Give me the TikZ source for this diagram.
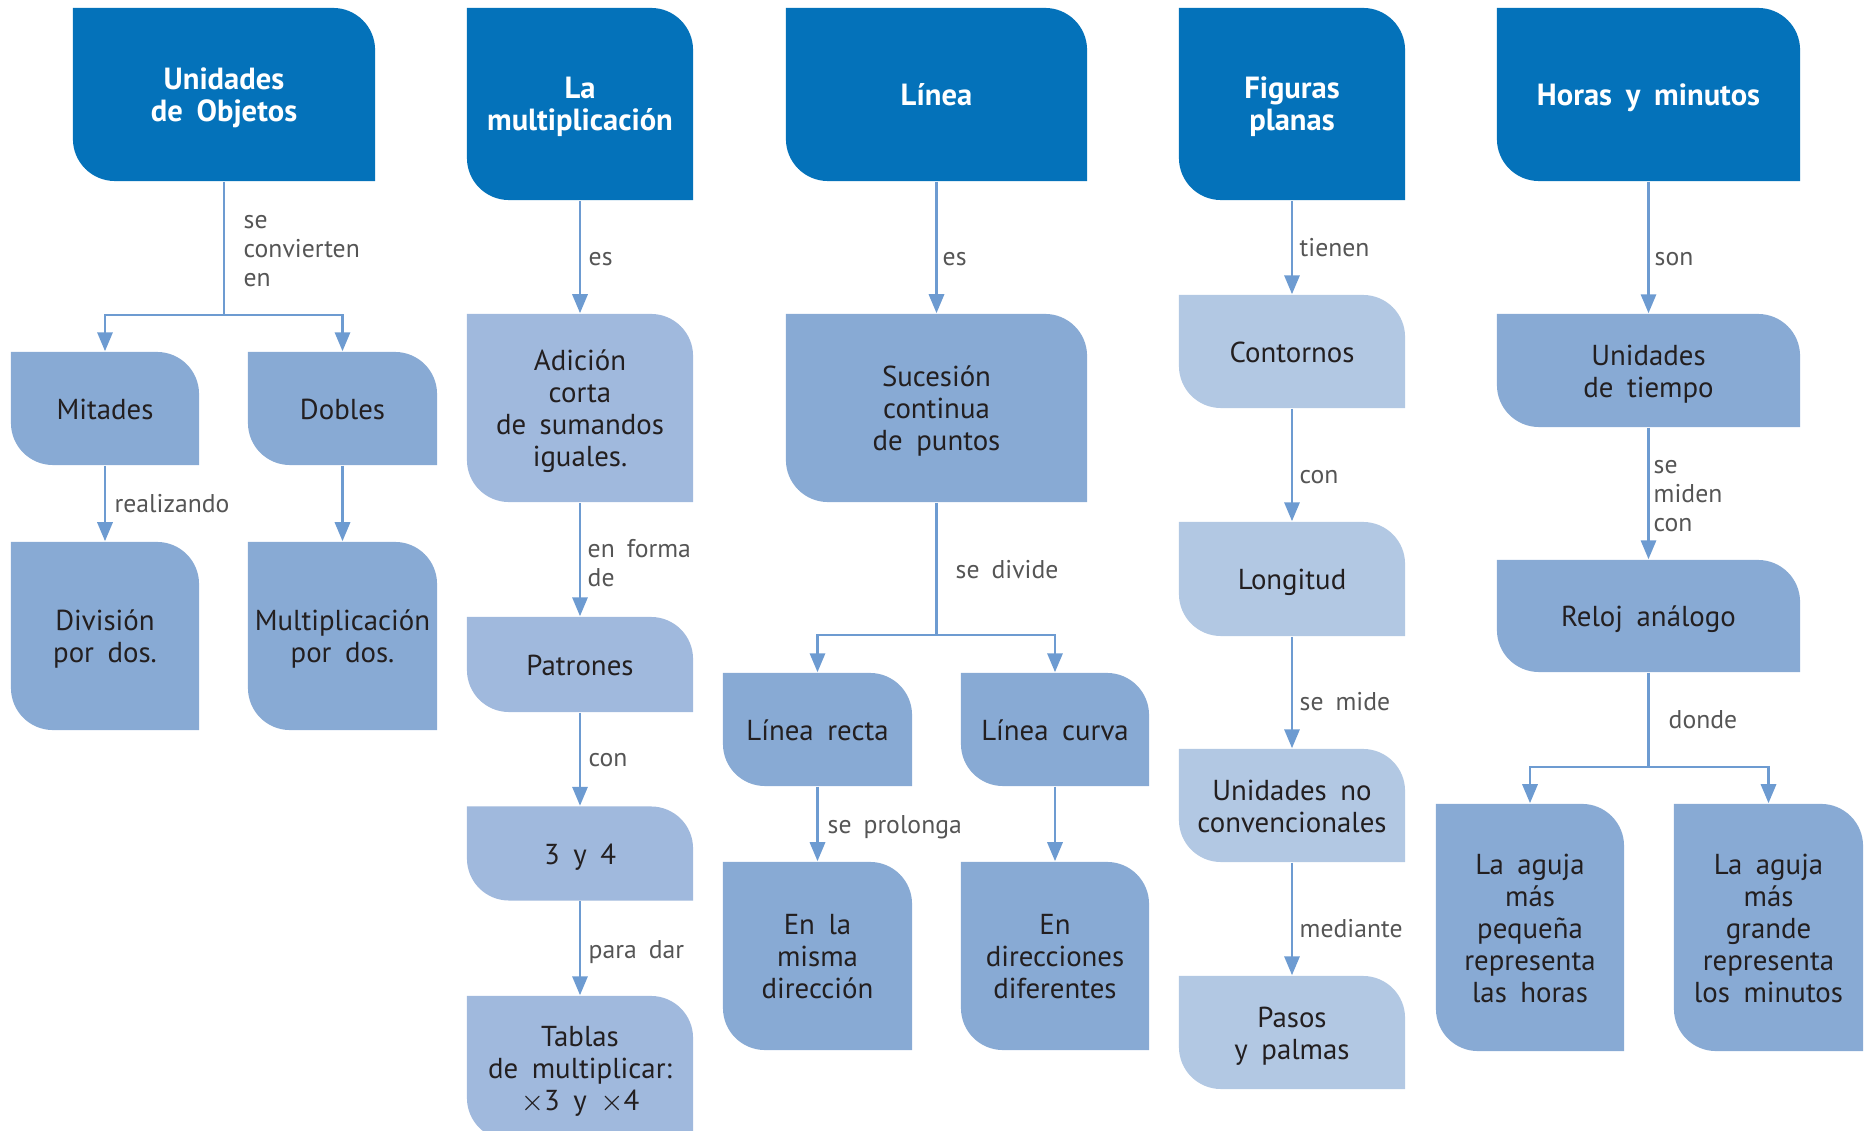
\documentclass[tikz,border=0pt]{standalone}
\usepackage{fontspec}
\setmainfont{PT Sans}
\usetikzlibrary{arrows.meta}
\definecolor{hdr}{HTML}{0472BA}
\definecolor{mid}{HTML}{88AAD4}
\definecolor{lite}{HTML}{A0B9DD}
\definecolor{pale}{HTML}{B2C8E3}
\definecolor{wire}{HTML}{6D9BD1}
\definecolor{lbl}{HTML}{555555}
\definecolor{ink}{HTML}{231F20}
\DeclareRobustCommand\bodyfnt{\fontsize{8.2}{9.1}\selectfont\spaceskip 0.47em plus 0.1em\relax}
\DeclareRobustCommand\headfnt{\fontsize{8.7}{9.1}\selectfont\bfseries\spaceskip 0.45em plus 0.1em\relax}
\DeclareRobustCommand\labfnt{\fontsize{7.3}{8.25}\selectfont\spaceskip 0.47em plus 0.1em\relax}
\DeclareRobustCommand\tst{\rule{0pt}{9pt}}
\DeclareRobustCommand\botstrut{\rule[-3pt]{0pt}{3pt}}
\tikzset{
 tile/.style={rectangle, inner sep=0pt, align=center, text=ink, fill=white,
   font=\bodyfnt,
   execute at begin node=\tst, execute at end node=\botstrut,
   path picture={\fill[#1] (path picture bounding box.north west)
     -- ([xshift=-0.42cm]path picture bounding box.north east)
     arc[start angle=90,end angle=0,radius=0.42cm]
     -- (path picture bounding box.south east)
     -- ([xshift=0.42cm]path picture bounding box.south west)
     arc[start angle=270,end angle=180,radius=0.42cm] -- cycle;}},
 head/.style={tile=hdr, text=white, font=\headfnt},
 wireln/.style={draw=wire, line width=0.8pt},
 arr/.style={wireln, -{Triangle[length=5.4pt,width=4.3pt]}},
 lab/.style={anchor=west, inner sep=0pt, align=left, text=lbl, font=\labfnt}
}
\begin{document}
\begin{tikzpicture}[x=0.01cm,y=-0.01cm]
\path[use as bounding box] (0,0) rectangle (1869,1131);
\clip (0,0) rectangle (1869,1131);
% column 1
\node[head, minimum width=3.02cm, minimum height=1.73cm] (uo) at (224,94.5) {\tst Unidades\\de Objetos};
\node[tile=mid, minimum width=1.88cm, minimum height=1.13cm] (mit) at (105,408.5) {Mitades};
\node[tile=mid, minimum width=1.89cm, minimum height=1.13cm] (dob) at (342.5,408.5) {Dobles};
\node[tile=mid, minimum width=1.88cm, minimum height=1.88cm] (div) at (105,636) {\tst División\\por dos.};
\node[tile=mid, minimum width=1.89cm, minimum height=1.88cm] (mpd) at (342.5,636) {\tst Multiplicación\\por dos.};
% column 2
\node[head, minimum width=2.26cm, minimum height=1.92cm] (mul) at (580,104) {\tst La\\multiplicación};
\node[tile=lite, minimum width=2.26cm, minimum height=1.88cm] (adi) at (580,408) {\tst Adición\\corta\\de sumandos\\iguales.};
\node[tile=lite, minimum width=2.26cm, minimum height=0.95cm] (pat) at (580,664.5) {Patrones};
\node[tile=lite, minimum width=2.26cm, minimum height=0.94cm] (tyc) at (580,853.5) {3 y 4};
\node[tile=lite, minimum width=2.26cm, minimum height=1.44cm] (tab) at (580,1068) {\tst Tablas\\de multiplicar:\\$\times$3 y $\times$4};
% column 3
\node[head, minimum width=3.01cm, minimum height=1.73cm] (lin) at (936.5,94.5) {Línea};
\node[tile=mid, minimum width=3.01cm, minimum height=1.88cm] (suc) at (936.5,408) {\tst Sucesión\\continua\\de puntos};
\node[tile=mid, minimum width=1.89cm, minimum height=1.13cm] (lre) at (817.5,729.5) {Línea recta};
\node[tile=mid, minimum width=1.88cm, minimum height=1.13cm] (lcu) at (1055,729.5) {Línea curva};
\node[tile=mid, minimum width=1.89cm, minimum height=1.88cm] (mis) at (817.5,956) {\tst En la\\misma\\dirección};
\node[tile=mid, minimum width=1.88cm, minimum height=1.88cm] (dif) at (1055,956) {\tst En\\direcciones\\diferentes};
% column 4
\node[head, minimum width=2.26cm, minimum height=1.92cm] (fig) at (1292,104) {\tst Figuras\\planas};
\node[tile=pale, minimum width=2.26cm, minimum height=1.13cm] (cont) at (1292,351.5) {Contornos};
\node[tile=pale, minimum width=2.26cm, minimum height=1.14cm] (lon) at (1292,579) {Longitud};
\node[tile=pale, minimum width=2.26cm, minimum height=1.13cm] (unc) at (1292,805.5) {\tst Unidades no\\convencionales};
\node[tile=pale, minimum width=2.26cm, minimum height=1.13cm] (pyp) at (1292,1032.5) {\tst Pasos\\y palmas};
% column 5
\node[head, minimum width=3.03cm, minimum height=1.73cm] (hym) at (1648.5,94.5) {Horas y minutos};
\node[tile=mid, minimum width=3.03cm, minimum height=1.13cm] (ut) at (1648.5,370.5) {\tst Unidades\\de tiempo};
\node[tile=mid, minimum width=3.03cm, minimum height=1.12cm] (rel) at (1648.5,616) {Reloj análogo};
\node[tile=mid, minimum width=1.88cm, minimum height=2.47cm] (ap) at (1530,927.5) {\tst La aguja\\más\\pequeña\\representa\\las horas};
\node[tile=mid, minimum width=1.89cm, minimum height=2.47cm] (ag) at (1768.5,927.5) {\tst La aguja\\más\\grande\\representa\\los minutos};
% connectors column 1
\coordinate (j1) at (224,315);
\draw[wireln] (uo.south) -- (j1);
\draw[arr] (j1) -| (mit.north);
\draw[arr] (j1) -| (dob.north);
\draw[arr] (mit.south) -- (div.north);
\draw[arr] (dob.south) -- (mpd.north);
% column 2
\draw[arr] (mul.south) -- (adi.north);
\draw[arr] (adi.south) -- (pat.north);
\draw[arr] (pat.south) -- (tyc.north);
\draw[arr] (tyc.south) -- (tab.north);
% column 3
\draw[arr] (lin.south) -- (suc.north);
\coordinate (j3) at (936.5,635);
\draw[wireln] (suc.south) -- (j3);
\draw[arr] (j3) -| (lre.north);
\draw[arr] (j3) -| (lcu.north);
\draw[arr] (lre.south) -- (mis.north);
\draw[arr] (lcu.south) -- (dif.north);
% column 4
\draw[arr] (fig.south) -- (cont.north);
\draw[arr] (cont.south) -- (lon.north);
\draw[arr] (lon.south) -- (unc.north);
\draw[arr] (unc.south) -- (pyp.north);
% column 5
\draw[arr] (hym.south) -- (ut.north);
\draw[arr] (ut.south) -- (rel.north);
\coordinate (j5) at (1648.5,767);
\draw[wireln] (rel.south) -- (j5);
\draw[arr] (j5) -| (ap.north);
\draw[arr] (j5) -| (ag.north);
% labels
\node[lab] (l1) at (243,251) {se\\convierten\\en};
\node[lab] (l2) at (114,504) {realizando};
\node[lab] (l3) at (588,259) {es};
\node[lab] (l4) at (587,563) {en forma\\de};
\node[lab] (l5) at (588,760) {con};
\node[lab] (l6) at (588,952) {para dar};
\node[lab] (l7) at (942,259) {es};
\node[lab] (l8) at (955,570) {se divide};
\node[lab] (l9) at (827,827) {se prolonga};
\node[lab] (l10) at (1299,248) {tienen};
\node[lab] (l11) at (1299,477) {con};
\node[lab] (l12) at (1299,702) {se mide};
\node[lab] (l13) at (1299,929) {mediante};
\node[lab] (l14) at (1654,259) {son};
\node[lab] (l15) at (1653,496) {se\\miden\\con};
\node[lab] (l16) at (1668,720) {donde};
\end{tikzpicture}
\end{document}
